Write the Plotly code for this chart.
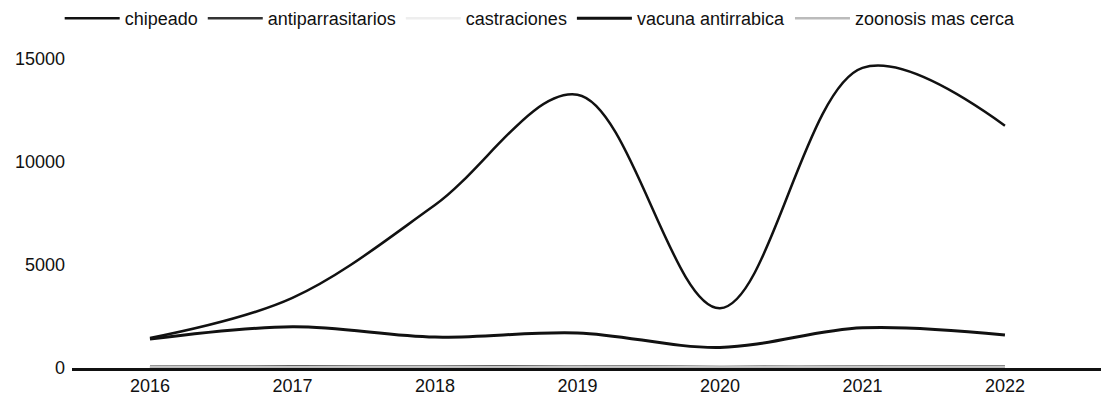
import plotly.graph_objects as go

years = ["2016", "2017", "2018", "2019", "2020", "2021", "2022"]
chipeado = [1450, 3400, 7900, 13250, 2900, 14550, 11750]
antiparrasitarios = [60, 80, 70, 90, 50, 80, 70]
castraciones = [40, 50, 45, 60, 30, 55, 50]
vacuna_antirrabica = [1400, 2000, 1500, 1700, 1000, 1950, 1600]
zoonosis_mas_cerca = [20, 30, 25, 30, 15, 30, 25]

y_ticks = [0, 5000, 10000, 15000]
y_tick_labels = ["0", "5000", "10000", "15000"]

series = [
    ("chipeado", chipeado, "#111111", 2.5),
    ("antiparrasitarios", antiparrasitarios, "#333333", 2.5),
    ("castraciones", castraciones, "#eeeeee", 2.5),
    ("vacuna antirrabica", vacuna_antirrabica, "#111111", 3),
    ("zoonosis mas cerca", zoonosis_mas_cerca, "#bbbbbb", 2.5),
]

fig = go.Figure()
for name, vals, color, w in series:
    fig.add_trace(go.Scatter(
        x=years, y=vals, name=name, mode="lines",
        line=dict(color=color, width=w, shape="spline", smoothing=1.0),
    ))

fig.update_layout(
    width=1101, height=408,
    margin=dict(l=72, r=0, t=38, b=40),
    paper_bgcolor="white", plot_bgcolor="white",
    font=dict(family="Liberation Sans, Arial, sans-serif", size=18, color="#111111"),
    legend=dict(orientation="h", x=0.455, xanchor="center", y=1.115, yanchor="top",
                font=dict(size=18), itemwidth=55, bgcolor="rgba(0,0,0,0)"),
    showlegend=True,
)
fig.update_xaxes(type="category", range=[-0.547, 6.674], showgrid=False,
                 showline=True, linecolor="#111111", linewidth=2.5,
                 ticks="", tickfont=dict(size=18))
fig.update_yaxes(range=[0, 16000], tickvals=y_ticks, ticktext=y_tick_labels,
                 showgrid=False, zeroline=False, showline=False, ticks="",
                 ticklabelstandoff=6, tickfont=dict(size=18))

fig.write_html("out.html", config={"displayModeBar": False},
               post_script="document.body.style.margin='0';")
